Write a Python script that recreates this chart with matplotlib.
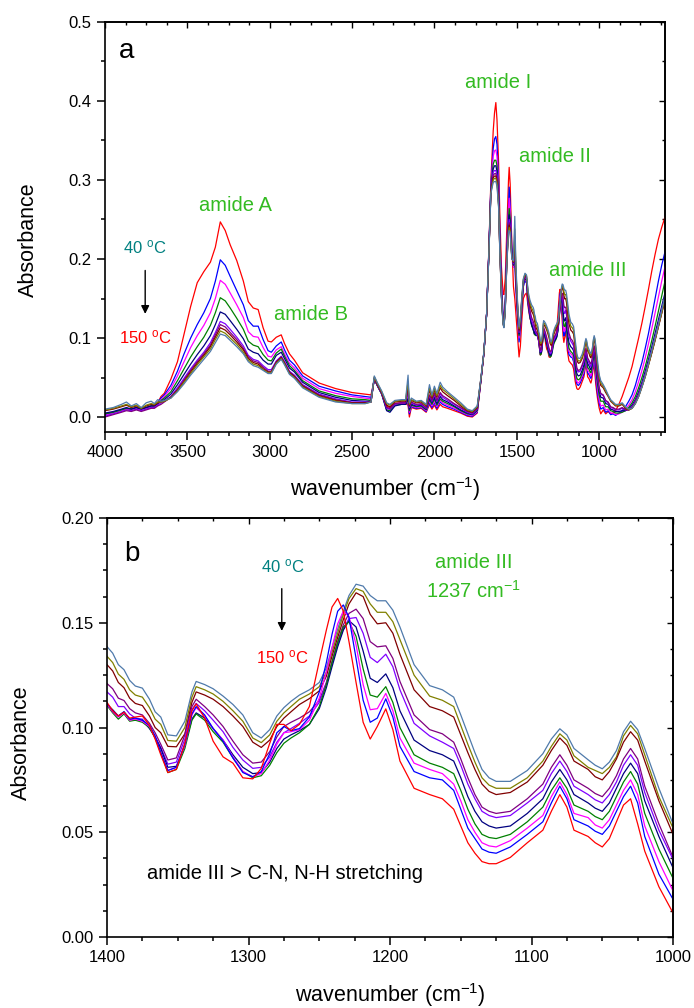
import matplotlib.pyplot as plt
from matplotlib.ticker import MultipleLocator, FormatStrFormatter

plt.rcParams['font.family'] = ['Liberation Sans', 'DejaVu Sans']
plt.rcParams['mathtext.fontset'] = 'custom'
plt.rcParams['mathtext.rm'] = 'Liberation Sans'
plt.rcParams['mathtext.it'] = 'Liberation Sans:italic'

# line colours, 40 ºC spectrum first, 150 ºC spectrum last
colors = ['#4f7aab', '#808000', '#800000', '#800080', '#8000ff',
          '#000080', '#008000', '#ff00ff', '#0000ff', '#ff0000']

# wavenumber grids (cm-1), split by spectral region
wn_noise = [4000, 3950, 3900, 3870, 3840, 3810, 3780, 3750, 3720, 3700, 3680, 3660]
wn_amideA = [3640, 3600, 3560, 3520, 3480, 3440, 3400, 3360, 3330, 3300, 3270, 3240,
             3200, 3160, 3130, 3100, 3070, 3040, 3010, 2990, 2960, 2930, 2910, 2880,
             2850, 2800, 2700, 2600, 2500]
wn_co2 = [2420, 2385, 2365, 2345, 2320, 2290, 2270, 2240, 2200, 2175, 2160, 2152,
          2140, 2110, 2080, 2050, 2030, 2015, 2000, 1985, 1965, 1950, 1920, 1880,
          1840, 1800, 1770, 1740]
wn_amide12 = [1718, 1700, 1683, 1669, 1657, 1643, 1635, 1627, 1620, 1610, 1603, 1593,
              1583, 1578, 1570, 1560, 1550, 1546, 1540, 1530, 1520, 1512, 1505, 1495,
              1486, 1478, 1470, 1460, 1450, 1441, 1430, 1420, 1410]
wn_amide3 = [1400, 1396, 1392, 1388, 1384, 1380, 1375, 1370, 1366, 1362, 1357, 1351,
             1345, 1340, 1337, 1331, 1325, 1318, 1311, 1304, 1297, 1291, 1285, 1280,
             1275, 1270, 1264, 1257, 1250, 1245, 1241, 1237, 1233, 1229, 1224, 1219,
             1214, 1209,
             1203, 1198, 1193, 1183, 1172, 1163, 1155, 1150, 1145, 1140, 1135, 1130,
             1125, 1115, 1103, 1092, 1086, 1080, 1075, 1070, 1060, 1055, 1050, 1045,
             1040, 1035, 1030, 1025, 1020, 1010, 1000]
wn_tail = [990, 975, 960, 945, 930, 915, 900, 880, 860, 840, 820, 800, 780, 760, 740,
           720, 700, 680, 660, 640, 620, 600]

# absorbance, one row per spectrum in the order of colors
abs_noise = [
    [.010, .012, .016, .019, .014, .017, .012, .018, .020, .017, .022, .020],
    [.009, .011, .014, .016, .013, .015, .011, .015, .017, .016, .019, .019],
    [.008, .010, .013, .015, .012, .014, .011, .014, .016, .015, .018, .019],
    [.000, .003, .006, .008, .007, .009, .007, .009, .011, .011, .014, .016],
    [.001, .004, .007, .009, .008, .010, .008, .010, .012, .012, .015, .018],
    [.005, .007, .010, .012, .010, .012, .010, .012, .014, .014, .017, .020],
    [.004, .006, .009, .011, .010, .012, .010, .012, .014, .014, .017, .021],
    [.002, .005, .008, .010, .009, .011, .009, .011, .013, .013, .016, .022],
    [.003, .006, .009, .011, .010, .012, .010, .012, .014, .014, .018, .024],
    [.004, .006, .009, .010, .010, .011, .010, .011, .013, .014, .018, .026],
]
abs_amideA = [
    [.021, .024, .032, .042, .053, .063, .073, .083, .094, .105, .103, .097, .089, .080, .070,
     .065, .063, .059, .055, .055, .067, .073, .066, .054, .049, .037, .025, .019, .017],
    [.020, .024, .033, .044, .055, .066, .076, .086, .098, .109, .106, .100, .092, .082, .072,
     .067, .065, .060, .056, .056, .068, .074, .067, .055, .050, .038, .026, .020, .017],
    [.020, .025, .034, .045, .057, .068, .078, .089, .101, .113, .110, .104, .095, .085, .074,
     .069, .067, .061, .057, .057, .069, .075, .068, .056, .051, .039, .027, .021, .018],
    [.019, .025, .035, .047, .059, .070, .080, .091, .104, .117, .114, .107, .098, .087, .076,
     .071, .069, .063, .058, .058, .070, .076, .069, .057, .052, .040, .028, .022, .018],
    [.020, .026, .037, .049, .061, .072, .082, .094, .107, .121, .118, .111, .101, .090, .078,
     .073, .071, .065, .060, .060, .071, .077, .070, .058, .053, .041, .029, .023, .019],
    [.022, .029, .041, .054, .067, .079, .090, .103, .117, .133, .130, .122, .111, .099, .086,
     .082, .080, .072, .067, .067, .078, .082, .074, .062, .057, .044, .031, .025, .021],
    [.024, .032, .046, .061, .076, .089, .101, .116, .132, .151, .147, .138, .125, .111, .096,
     .091, .089, .079, .072, .071, .081, .086, .077, .065, .059, .046, .033, .027, .023],
    [.026, .036, .052, .070, .088, .103, .116, .132, .150, .173, .168, .157, .142, .126, .108,
     .102, .101, .088, .077, .076, .085, .089, .080, .068, .062, .049, .036, .030, .026],
    [.028, .040, .058, .080, .100, .117, .132, .150, .172, .199, .192, .178, .160, .142, .122,
     .115, .115, .098, .084, .082, .090, .095, .085, .072, .066, .052, .039, .033, .028],
    [.030, .048, .070, .105, .140, .170, .184, .196, .215, .247, .236, .218, .198, .172, .146,
     .138, .136, .113, .096, .095, .101, .104, .093, .080, .072, .056, .043, .036, .031],
]
abs_co2 = [
    [.017, .019, .052, .043, .033, .018, .016, .021, .022, .022, .053, .018, .024, .020,
     .021, .016, .041, .028, .039, .030, .044, .038, .032, .025, .018, .010, .008, .014],
    [.017, .019, .051, .042, .032, .017, .015, .020, .021, .021, .045, .016, .022, .019,
     .020, .015, .037, .026, .036, .027, .040, .035, .030, .023, .016, .009, .007, .013],
    [.018, .019, .050, .041, .031, .015, .013, .019, .020, .020, .040, .015, .021, .018,
     .019, .014, .034, .024, .034, .025, .037, .032, .027, .021, .014, .008, .006, .012],
    [.018, .019, .049, .040, .030, .012, .011, .017, .018, .018, .034, .013, .019, .016,
     .017, .012, .028, .021, .030, .021, .031, .027, .023, .017, .012, .007, .005, .011],
    [.019, .019, .049, .040, .030, .011, .010, .016, .018, .018, .030, .012, .018, .015,
     .016, .011, .027, .020, .028, .020, .029, .025, .021, .016, .011, .006, .004, .010],
    [.020, .020, .049, .039, .029, .008, .006, .014, .016, .016, .024, .010, .016, .014,
     .015, .010, .024, .018, .025, .017, .026, .022, .019, .014, .009, .005, .003, .009],
    [.022, .021, .048, .039, .029, .009, .008, .015, .016, .016, .022, .008, .015, .013,
     .014, .009, .022, .016, .023, .015, .023, .020, .017, .013, .008, .004, .003, .008],
    [.024, .023, .048, .040, .030, .011, .010, .016, .017, .017, .020, .006, .014, .012,
     .013, .008, .020, .014, .020, .013, .021, .018, .015, .011, .007, .003, .002, .007],
    [.026, .025, .048, .040, .030, .012, .010, .016, .017, .017, .018, .004, .013, .011,
     .012, .007, .018, .012, .018, .011, .019, .016, .013, .010, .006, .002, .001, .006],
    [.029, .028, .047, .040, .030, .014, .012, .017, .018, .017, .015, .000, .012, .010,
     .011, .006, .016, .010, .015, .009, .016, .013, .011, .008, .005, .001, .000, .005],
]
abs_amide12 = [
    [.049, .082, .130, .208, .283, .297, .298, .298, .292, .264, .210, .151, .117, .113, .134,
     .195, .233, .236, .233, .200, .198, .254, .192, .145, .114, .126, .150, .175, .182, .180,
     .158, .148, .142],
    [.048, .081, .130, .208, .284, .300, .302, .302, .296, .266, .211, .152, .118, .114, .135,
     .196, .235, .240, .235, .201, .197, .238, .186, .142, .112, .124, .148, .174, .181, .179,
     .155, .145, .138],
    [.048, .081, .130, .209, .285, .303, .305, .305, .299, .268, .212, .153, .118, .114, .136,
     .197, .237, .243, .237, .202, .196, .228, .182, .140, .110, .123, .147, .173, .180, .178,
     .153, .142, .134],
    [.047, .080, .130, .209, .286, .306, .308, .308, .302, .270, .213, .154, .119, .114, .136,
     .198, .239, .246, .239, .202, .195, .220, .178, .138, .108, .121, .145, .171, .178, .176,
     .148, .135, .126],
    [.047, .080, .130, .210, .287, .310, .312, .312, .306, .273, .215, .155, .120, .115, .137,
     .200, .242, .250, .242, .203, .194, .215, .175, .136, .107, .120, .144, .170, .177, .175,
     .146, .132, .122],
    [.046, .080, .130, .210, .288, .314, .318, .318, .311, .277, .218, .157, .121, .116, .138,
     .202, .246, .256, .246, .205, .193, .210, .172, .134, .105, .118, .142, .169, .176, .174,
     .144, .128, .117],
    [.046, .080, .130, .211, .290, .320, .325, .325, .318, .282, .222, .160, .123, .118, .140,
     .205, .252, .264, .252, .207, .192, .205, .170, .132, .103, .116, .140, .168, .175, .173,
     .143, .127, .116],
    [.046, .080, .130, .212, .292, .330, .337, .338, .330, .290, .228, .165, .126, .120, .142,
     .210, .262, .277, .262, .210, .190, .200, .165, .128, .100, .113, .138, .167, .174, .172,
     .143, .127, .117],
    [.046, .080, .131, .213, .295, .340, .352, .355, .345, .300, .235, .170, .130, .123, .145,
     .215, .270, .291, .270, .215, .190, .195, .160, .125, .095, .110, .135, .165, .172, .170,
     .142, .127, .118],
    [.045, .080, .131, .215, .300, .362, .385, .398, .376, .321, .258, .190, .157, .155, .175,
     .240, .300, .316, .295, .220, .165, .150, .130, .100, .076, .090, .120, .150, .155, .157,
     .138, .125, .119],
]
# amide III region, drawn in both panels
abs_amide3 = [
    [.1386, .1355, .1300, .1276, .1225, .1198, .1188, .1135, .1075, .1050, .0965, .0960,
     .1030, .1170, .1220, .1205, .1185, .1150, .1110, .1060, .0975, .0950, .0990, .1055,
     .1095, .1125, .1155, .1180, .1215, .1285, .1380, .1470, .1555, .1630, .1684, .1675,
     .1630, .1605,
     .1605, .156, .148, .130, .120, .118, .1145, .106, .097, .088, .080, .076,
     .0743, .0743, .0795, .0875, .0945, .0994, .0965, .090, .0846, .082, .0803, .0835,
     .089, .098, .103, .099, .090, .071, .054],
    [.134, .131, .1255, .123, .118, .1155, .1145, .1095, .104, .1015, .0938, .0935,
     .100, .1145, .1195, .118, .116, .1125, .108, .103, .095, .0928, .0965, .103,
     .107, .110, .1135, .116, .1195, .1265, .136, .145, .154, .1615, .1663, .1650,
     .1590, .1550,
     .155, .1505, .142, .125, .115, .113, .110, .101, .092, .0835, .076, .0725,
     .071, .071, .076, .084, .091, .097, .094, .0865, .081, .0795, .078, .081,
     .086, .096, .101, .097, .087, .067, .052],
    [.130, .127, .1215, .119, .114, .1115, .1105, .1055, .100, .0975, .091, .0908,
     .097, .112, .117, .1155, .1135, .110, .1055, .1005, .093, .0905, .094, .1005,
     .1045, .1075, .111, .1138, .1175, .1245, .134, .143, .1515, .159, .1643, .1625,
     .1540, .1495,
     .150, .145, .135, .118, .110, .108, .105, .0965, .088, .080, .073, .0695,
     .068, .069, .074, .082, .089, .095, .0915, .084, .080, .0765, .075, .079,
     .085, .093, .098, .094, .084, .065, .049],
    [.121, .1185, .114, .1129, .109, .107, .106, .102, .0975, .092, .0845, .0855,
     .0965, .110, .1135, .110, .106, .1005, .0935, .087, .083, .0835, .0885, .0955,
     .1005, .1025, .1045, .1075, .113, .1215, .1315, .141, .149, .1545, .1565, .152,
     .141, .1385,
     .139, .133, .122, .106, .099, .097, .093, .085, .076, .068, .062, .060,
     .059, .060, .066, .073, .081, .087, .082, .075, .071, .0685, .067, .071,
     .077, .085, .090, .085, .072, .054, .038],
    [.117, .1145, .110, .110, .1065, .1045, .104, .100, .0955, .0905, .0825, .0835,
     .0945, .1085, .1115, .108, .1035, .098, .0905, .0845, .0805, .081, .086, .093,
     .0975, .0995, .102, .1055, .112, .121, .1305, .1395, .147, .152, .1525, .145,
     .1335, .131,
     .135, .129, .118, .102, .096, .093, .090, .082, .073, .066, .060, .058,
     .057, .058, .064, .070, .078, .084, .079, .072, .068, .0655, .064, .068,
     .074, .082, .087, .082, .069, .051, .037],
    [.111, .1085, .1055, .1075, .104, .1035, .1035, .0995, .0955, .090, .081, .0815,
     .0915, .104, .107, .1045, .0995, .094, .087, .081, .078, .0785, .0835, .090,
     .0945, .0965, .0985, .1015, .109, .119, .129, .1385, .1465, .151, .148, .1365,
     .1235, .1215,
     .1256, .119, .108, .094, .089, .087, .084, .076, .067, .060, .055, .053,
     .052, .053, .059, .066, .074, .080, .075, .068, .064, .0615, .060, .064,
     .071, .078, .083, .078, .065, .048, .033],
    [.1105, .107, .104, .1065, .103, .1035, .1025, .100, .095, .088, .0785, .080,
     .090, .1035, .1065, .1035, .098, .093, .0855, .079, .076, .077, .082, .088,
     .0925, .095, .0975, .1015, .110, .1205, .131, .1405, .148, .1505, .1435, .128,
     .1155, .1145,
     .1195, .112, .100, .087, .083, .081, .078, .070, .061, .054, .049, .0475,
     .047, .049, .055, .062, .070, .076, .071, .063, .060, .0575, .056, .060,
     .067, .074, .079, .073, .059, .042, .028],
    [.111, .1075, .105, .107, .1035, .104, .103, .1005, .0955, .088, .0795, .081,
     .0915, .106, .1095, .1055, .0995, .094, .086, .079, .0765, .078, .0845, .092,
     .0975, .098, .099, .1035, .114, .1265, .138, .1495, .1555, .153, .1395, .1205,
     .1085, .109,
     .1163, .108, .095, .083, .080, .078, .073, .065, .056, .050, .045, .0435,
     .043, .046, .052, .058, .067, .074, .068, .059, .057, .0535, .052, .056,
     .063, .070, .075, .068, .053, .036, .022],
    [.1115, .108, .1055, .1075, .104, .1045, .1035, .101, .096, .088, .0795, .081,
     .092, .1065, .110, .106, .0995, .0935, .0855, .0785, .0765, .079, .0875, .0975,
     .1005, .0985, .0995, .105, .117, .131, .1445, .1555, .1585, .1525, .133, .113,
     .1025, .1045,
     .1137, .105, .091, .079, .076, .075, .070, .061, .052, .047, .042, .0405,
     .040, .043, .049, .055, .064, .072, .066, .056, .053, .0505, .049, .053,
     .060, .067, .072, .064, .048, .030, .018],
    [.112, .108, .1055, .1073, .1045, .105, .1055, .101, .0945, .087, .0785, .080,
     .0925, .108, .1113, .1045, .0935, .086, .083, .076, .0755, .0805, .0925, .1015,
     .1015, .0985, .1015, .110, .1315, .1465, .1575, .1616, .1555, .141, .1215, .1025,
     .0945, .1005,
     .1089, .099, .084, .071, .068, .066, .061, .053, .045, .040, .036, .035,
     .035, .038, .045, .051, .060, .068, .062, .051, .048, .045, .043, .047,
     .055, .063, .066, .054, .041, .024, .0115],
]
abs_tail = [
    [.046, .041, .035, .028, .022, .019, .016, .016, .018, .013, .010, .011, .017, .026,
     .038, .052, .068, .084, .100, .117, .135, .153],
    [.043, .039, .033, .027, .021, .018, .015, .015, .017, .012, .009, .011, .017, .026,
     .038, .051, .066, .082, .098, .115, .132, .150],
    [.040, .037, .031, .026, .020, .017, .014, .014, .016, .011, .009, .011, .017, .026,
     .038, .051, .066, .081, .097, .114, .131, .148],
    [.030, .028, .021, .019, .013, .012, .010, .010, .012, .009, .009, .012, .019, .028,
     .039, .052, .067, .082, .098, .115, .132, .149],
    [.029, .027, .020, .018, .012, .011, .009, .009, .011, .009, .009, .013, .020, .029,
     .041, .054, .069, .085, .101, .118, .135, .152],
    [.025, .024, .017, .016, .010, .009, .007, .007, .008, .008, .010, .015, .022, .032,
     .044, .058, .073, .089, .106, .123, .140, .157],
    [.020, .020, .013, .013, .008, .007, .005, .005, .006, .008, .012, .018, .026, .037,
     .050, .064, .080, .097, .115, .134, .153, .172],
    [.014, .015, .009, .010, .005, .005, .003, .004, .006, .010, .015, .022, .032, .045,
     .059, .075, .093, .112, .132, .152, .172, .190],
    [.010, .012, .006, .008, .003, .004, .002, .005, .008, .013, .020, .028, .040, .055,
     .069, .087, .106, .128, .150, .172, .192, .209],
    [.004, .009, .004, .007, .004, .005, .008, .016, .026, .038, .050, .064, .082, .100,
     .119, .140, .162, .185, .206, .225, .240, .253],
]

GREEN = '#33bb22'
TEAL = '#008080'
DEG = '$^{\\mathregular{o}}$C'


def style_axes(ax, xmaj, xmin, ymaj, ymin, yfmt):
    ax.xaxis.set_major_locator(MultipleLocator(xmaj))
    ax.xaxis.set_minor_locator(MultipleLocator(xmin))
    ax.yaxis.set_major_locator(MultipleLocator(ymaj))
    ax.yaxis.set_minor_locator(MultipleLocator(ymin))
    ax.yaxis.set_major_formatter(FormatStrFormatter(yfmt))
    ax.tick_params(which='both', direction='out', width=1.1, labelsize=12,
                   top=False, right=False)
    ax.tick_params(which='major', length=6)
    ax.tick_params(which='minor', length=3)
    for s in ax.spines.values():
        s.set_linewidth(1.2)
    # mirrored ticks pointing inwards on top and right
    top = ax.secondary_xaxis('top')
    top.xaxis.set_major_locator(MultipleLocator(xmaj))
    top.xaxis.set_minor_locator(MultipleLocator(xmin))
    top.tick_params(which='both', direction='in', labeltop=False, width=1.0)
    top.tick_params(which='major', length=4)
    top.tick_params(which='minor', length=2.5)
    right = ax.secondary_yaxis('right')
    right.yaxis.set_major_locator(MultipleLocator(ymaj))
    right.yaxis.set_minor_locator(MultipleLocator(ymin))
    right.tick_params(which='both', direction='in', labelright=False, width=1.0)
    right.tick_params(which='major', length=4)
    right.tick_params(which='minor', length=2.5)
    for sec in (top, right):
        for s in sec.spines.values():
            s.set_linewidth(1.2)


fig = plt.figure(figsize=(6.94, 10.08), dpi=100)
ax_a = fig.add_axes([0.1513, 0.5714, 0.8069, 0.4068])
ax_b = fig.add_axes([0.1542, 0.0704, 0.8156, 0.4157])

# panel a: full spectra
wn_full = wn_noise + wn_amideA + wn_co2 + wn_amide12 + wn_amide3 + wn_tail
for i in reversed(range(len(colors))):
    y = (abs_noise[i] + abs_amideA[i] + abs_co2[i] + abs_amide12[i]
         + abs_amide3[i] + abs_tail[i])
    ax_a.plot(wn_full, y, color=colors[i], lw=0.9)

ax_a.set_xlim(4000, 600)
ax_a.set_ylim(-0.019, 0.5)
style_axes(ax_a, 500, 125, 0.1, 0.05, '%.1f')
ax_a.set_ylabel('Absorbance', fontsize=15.5)
ax_a.yaxis.set_label_coords(-0.118, 0.468)
ax_a.set_xlabel('wavenumber (cm$^{\\mathregular{-1}}$)', fontsize=15.5, va='baseline')
ax_a.xaxis.set_label_coords(0.5, -0.156)

ax_a.text(0.024, 0.93, 'a', transform=ax_a.transAxes, fontsize=20, va='center')
ax_a.text(3210, 0.268, 'amide A', color=GREEN, fontsize=14.5, ha='center', va='center')
ax_a.text(2750, 0.130, 'amide B', color=GREEN, fontsize=14.5, ha='center', va='center')
ax_a.text(1612, 0.423, 'amide I', color=GREEN, fontsize=14.5, ha='center', va='center')
ax_a.text(1271, 0.330, 'amide II', color=GREEN, fontsize=14.5, ha='center', va='center')
ax_a.text(1071, 0.186, 'amide III', color=GREEN, fontsize=14.5, ha='center', va='center')
ax_a.text(3756, 0.215, '40 ' + DEG, color=TEAL, fontsize=12, ha='center', va='center')
ax_a.text(3756, 0.101, '150 ' + DEG, color='red', fontsize=12, ha='center', va='center')
ax_a.annotate('', xy=(3756, 0.127), xytext=(3756, 0.189),
              arrowprops=dict(arrowstyle='-|>', color='k', lw=1.0, mutation_scale=12))

# panel b: amide III region
for i in range(len(colors)):
    ax_b.plot(wn_amide3, abs_amide3[i], color=colors[i], lw=0.9)

ax_b.set_xlim(1400, 1000)
ax_b.set_ylim(0, 0.2)
style_axes(ax_b, 100, 25, 0.05, 0.0125, '%.2f')
ax_b.set_ylabel('Absorbance', fontsize=15.5)
ax_b.yaxis.set_label_coords(-0.1325, 0.465)
ax_b.set_xlabel('wavenumber (cm$^{\\mathregular{-1}}$)', fontsize=15.5, va='baseline')
ax_b.xaxis.set_label_coords(0.5, -0.1544)

ax_b.text(0.03, 0.914, 'b', transform=ax_b.transAxes, fontsize=20, va='center')
ax_b.text(1276, 0.177, '40 ' + DEG, color=TEAL, fontsize=12, ha='center', va='center')
ax_b.text(1276, 0.1335, '150 ' + DEG, color='red', fontsize=12, ha='center', va='center')
ax_b.annotate('', xy=(1276.5, 0.1448), xytext=(1276.5, 0.1676),
              arrowprops=dict(arrowstyle='-|>', color='k', lw=1.0, mutation_scale=12))
ax_b.text(1141, 0.179, 'amide III', color=GREEN, fontsize=14.5, ha='center', va='center')
ax_b.text(1141, 0.1652, '1237 cm$^{\\mathregular{-1}}$', color=GREEN, fontsize=14.5,
          ha='center', va='center')
ax_b.text(1372, 0.0305, 'amide III > C-N, N-H stretching', fontsize=14.5,
          ha='left', va='center')

fig.savefig('out.png', dpi=100)
